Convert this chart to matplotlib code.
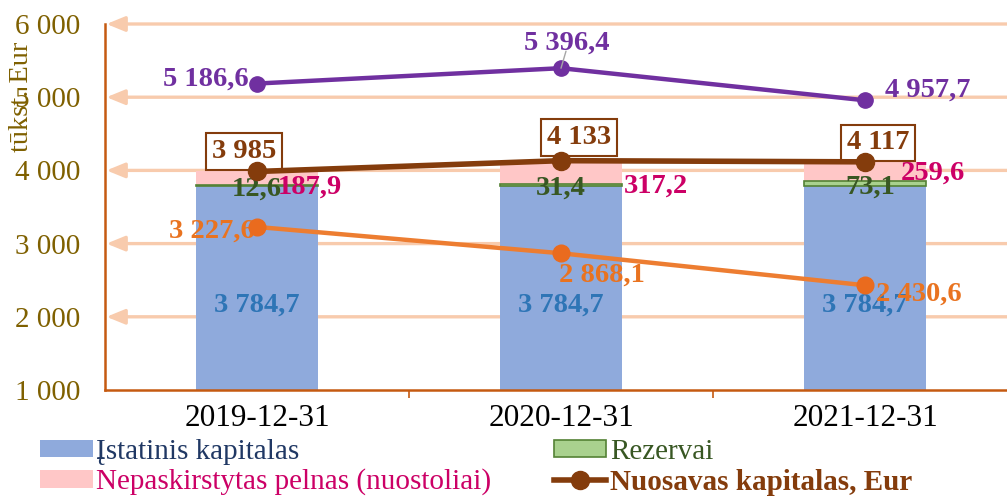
import matplotlib
matplotlib.use("Agg")
import matplotlib.pyplot as plt
from matplotlib.patches import Patch
from matplotlib.lines import Line2D
import numpy as np

plt.rcParams['font.family'] = ['Liberation Serif', 'DejaVu Serif']

categories = ["2019-12-31", "2020-12-31", "2021-12-31"]
istatinis = [3784.7, 3784.7, 3784.7]
rezervai = [12.6, 31.4, 73.1]
nepaskirstytas = [187.9, 317.2, 259.6]
nuosavas = [3985, 4133, 4117]
nuosavas_labels = ["3 985", "4 133", "4 117"]
purple_vals = [5186.6, 5396.4, 4957.7]
orange_vals = [3227.6, 2868.1, 2430.6]
yticks = [1000, 2000, 3000, 4000, 5000, 6000]
ytick_labels = ["1 000", "2 000", "3 000", "4 000", "5 000", "6 000"]


def fmt(v):
    s = f"{v:,.1f}".replace(",", " ").replace(".", ",")
    return s

C_BLUE = "#8FAADC"
C_PINK = "#FFC7C7"
C_GREEN = "#A9D18E"
C_GREEN_E = "#548235"
C_BROWN = "#843C0C"
C_PURPLE = "#7030A0"
C_ORANGE = "#ED7D31"
C_GRID = "#F8CBAD"
C_AXIS = "#C55A11"
C_TICK = "#7F6000"

fig = plt.figure(figsize=(10.07, 4.96), dpi=100)
ax = fig.add_axes([105/1007, 106/496, 912/1007, 366/496])
ax.set_xlim(-0.5, 2.5)
ax.set_ylim(1000, 6000)

x = np.arange(len(categories))
w = 0.4

# gridlines with arrowheads at left end
for yv in yticks[1:]:
    ax.annotate("", xy=(-0.5 + 0.005, yv), xytext=(2.5, yv), xycoords='data',
                arrowprops=dict(arrowstyle='-|>,head_length=1.1,head_width=0.45',
                                color=C_GRID, lw=2.4, shrinkA=0, shrinkB=0),
                annotation_clip=False, zorder=0.5)

# stacked bars
ax.bar(x, istatinis, w, color=C_BLUE, zorder=2)
ax.bar(x, rezervai, w, bottom=istatinis, color=C_GREEN, edgecolor=C_GREEN_E, lw=1.2, zorder=2)
bot2 = np.array(istatinis) + np.array(rezervai)
ax.bar(x, nepaskirstytas, w, bottom=bot2, color=C_PINK, zorder=1.9)

# lines
ax.plot(x, purple_vals, color=C_PURPLE, lw=3.2, marker='o', ms=11, zorder=5)
ax.plot(x, orange_vals, color=C_ORANGE, lw=3.2, marker='o', ms=12,
        mfc="#EA6B1E", mec="#EA6B1E", zorder=5)
ax.plot(x, nuosavas, color=C_BROWN, lw=4, marker='o', ms=13, zorder=5)

# small leader line for the middle purple label
ax.annotate("", (x[1], purple_vals[1]), xytext=(5, 17), textcoords='offset pixels',
            arrowprops=dict(arrowstyle='-', color='#A6A6A6', lw=1, shrinkA=0, shrinkB=0),
            zorder=5.5)

fs = 20.5
bold = dict(fontsize=fs, fontweight='bold', ha='center', va='center')

# blue labels
for i, v in enumerate(istatinis):
    ax.text(x[i], 2160, fmt(v), color="#2E75B6", zorder=3, **bold)

# green labels
green_off = [(0, -4), (0, -4), (5, -6)]
for i, v in enumerate(rezervai):
    ax.annotate(fmt(v), (x[i], bot2[i]), xytext=green_off[i], textcoords='offset pixels',
                color="#385723", zorder=3, **bold)

# pink labels
pink_off = [(53, -16), (95, -26), (68, -11)]
for i, v in enumerate(nepaskirstytas):
    ax.annotate(fmt(v), (x[i], nuosavas[i]), xytext=pink_off[i], textcoords='offset pixels',
                color="#CC0066", zorder=3.2, **bold)

# purple labels
purple_off = [(-51, 4), (6, 25), (63, 10)]
for i, v in enumerate(purple_vals):
    ax.annotate(fmt(v), (x[i], v), xytext=purple_off[i], textcoords='offset pixels',
                color=C_PURPLE, zorder=3, **bold)

# orange labels
orange_off = [(-45, -4), (41, -22), (54, -9)]
for i, v in enumerate(orange_vals):
    ax.annotate(fmt(v), (x[i], v), xytext=orange_off[i], textcoords='offset pixels',
                color="#E97320", zorder=3, **bold)

# nuosavas boxed labels
brown_off = [(-13, 20), (18, 23), (13, 19)]
for i, v in enumerate(nuosavas):
    ax.annotate(nuosavas_labels[i], (x[i], v), xytext=brown_off[i], textcoords='offset pixels',
                color=C_BROWN, zorder=4,
                bbox=dict(boxstyle='square,pad=0.2', fc='white', ec=C_BROWN, lw=1.5),
                **bold)

# axes styling
for s in ['top', 'right']:
    ax.spines[s].set_visible(False)
ax.spines['left'].set_color(C_AXIS)
ax.spines['bottom'].set_color(C_AXIS)
ax.spines['left'].set_linewidth(1.8)
ax.spines['bottom'].set_linewidth(1.8)
ax.spines['left'].set_zorder(6)
ax.spines['bottom'].set_zorder(6)

ax.set_yticks(yticks)
ax.set_yticklabels(ytick_labels, color=C_TICK, fontsize=21)
ax.tick_params(axis='y', length=0, pad=18)
ax.set_xticks(x)
ax.set_xticklabels(categories, fontsize=22.5, color='black')
ax.tick_params(axis='x', length=0, pad=10)
ax.set_xticks([0.5, 1.5], minor=True)
ax.tick_params(axis='x', which='minor', length=6, color=C_AXIS, width=1.2)

fig.text(22/1007, 1 - 97/496, "tūkst. Eur", rotation=90, ha='center', va='center',
         fontsize=20.5, color=C_TICK)

# legend
handles = [
    Patch(facecolor=C_BLUE, edgecolor='none'),
    Patch(facecolor=C_PINK, edgecolor='none'),
    Patch(facecolor=C_GREEN, edgecolor=C_GREEN_E, lw=1.2),
    Line2D([0], [0], color=C_BROWN, lw=4, marker='o', ms=13),
]
labels = ["Įstatinis kapitalas", "Nepaskirstytas pelnas (nuostoliai)", "Rezervai",
          "Nuosavas kapitalas, Eur"]
leg = fig.legend(handles, labels, ncol=2, loc='upper left',
                 bbox_to_anchor=(40/1007, 1 - 439/496), frameon=False,
                 fontsize=21, handlelength=1.8, handleheight=0.55, handletextpad=0.12,
                 columnspacing=2.15, labelspacing=0.12, borderaxespad=0, borderpad=0)
text_colors = ["#203864", "#CC0066", "#385723", C_BROWN]
for t, c in zip(leg.get_texts(), text_colors):
    t.set_color(c)
leg.get_texts()[3].set_fontweight('bold')

fig.savefig("out.png", dpi=100)
